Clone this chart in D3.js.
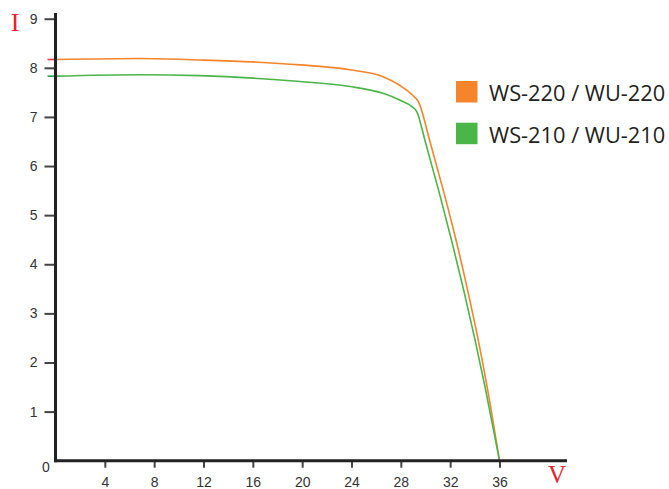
<!DOCTYPE html>
<html>
<head lang="en">
    <meta charset="UTF-8">
    <title>I-V curve</title>
    <script type="text/javascript" src="https://cdn.jsdelivr.net/npm/d3@7"></script>
    <style>
        body { margin: 0; background: #fff; }
    </style>
</head>
<body>
<svg id="mainSvg"></svg>
<script>
    var w = 669, h = 489;

    // series
    var seriesNames = ["WS-220 / WU-220", "WS-210 / WU-210"];
    var seriesColors = ["#f5842a", "#4bb648"];
    var stubColors = ["#ee3a3a", "#1fa34a"];

    var voltage220 = [0, 6.85, 11.7, 16, 19.83, 23.88, 26.56, 27.94, 29.0, 29.42, 30.36, 31.45, 32.47, 33.39, 34.24, 35.0, 36];
    var current220 = [8.17, 8.19, 8.16, 8.12, 8.06, 7.96, 7.82, 7.64, 7.43, 7.31, 6.5, 5.5, 4.5, 3.5, 2.5, 1.5, 0];

    var voltage210 = [0, 6.85, 11.7, 16, 19.83, 23.88, 26.56, 27.94, 28.91, 29.29, 29.98, 31.07, 32.10, 33.07, 33.98, 34.83, 36];
    var current210 = [7.83, 7.86, 7.84, 7.79, 7.72, 7.62, 7.48, 7.34, 7.21, 7.11, 6.5, 5.5, 4.5, 3.5, 2.5, 1.5, 0];

    var xTicks = [4, 8, 12, 16, 20, 24, 28, 32, 36];
    var yTicks = [1, 2, 3, 4, 5, 6, 7, 8, 9];

    var series = [
        {name: seriesNames[0], color: seriesColors[0], stub: stubColors[0], v: voltage220, i: current220},
        {name: seriesNames[1], color: seriesColors[1], stub: stubColors[1], v: voltage210, i: current210}
    ];

    var x = d3.scaleLinear().domain([0, 36]).range([55.5, 499.5]);
    var y = d3.scaleLinear().domain([0, 9]).range([460.7, 18.7]);

    var svg = d3.select("#mainSvg").attr("width", w).attr("height", h);

    // curves
    var line = d3.line()
            .x(function (d) { return x(d[0]); })
            .y(function (d) { return y(d[1]); })
            .curve(d3.curveMonotoneX);

    svg.selectAll("path.curve")
            .data(series)
            .enter()
            .append("path")
            .attr("class", "curve")
            .attr("fill", "none")
            .attr("stroke", function (d) { return d.color; })
            .attr("stroke-width", 1.6)
            .attr("d", function (d) {
                return line(d.v.map(function (v, k) { return [v, d.i[k]]; }));
            });

    // little stubs left of the y axis where the curves start
    svg.selectAll("line.stub")
            .data(series)
            .enter()
            .append("line")
            .attr("class", "stub")
            .attr("x1", x(0) - 8)
            .attr("x2", x(0))
            .attr("y1", function (d) { return y(d.i[0]); })
            .attr("y2", function (d) { return y(d.i[0]); })
            .attr("stroke", function (d) { return d.stub; })
            .attr("stroke-width", 1.6);

    // y axis
    var yAxis = d3.axisLeft(y).tickValues(yTicks).tickSize(11).tickPadding(7);
    var gy = svg.append("g").attr("transform", "translate(" + x(0) + ",0)").call(yAxis);
    gy.select(".domain").remove();
    gy.selectAll(".tick line").attr("stroke", "#444").attr("stroke-width", 2);
    gy.selectAll(".tick text")
            .attr("font-family", "Liberation Sans, Arial, sans-serif")
            .attr("font-size", 14)
            .attr("fill", "#333");

    // x axis
    var xAxis = d3.axisBottom(x).tickValues(xTicks).tickSize(7).tickPadding(9);
    var gx = svg.append("g").attr("transform", "translate(0," + y(0) + ")").call(xAxis);
    gx.select(".domain").remove();
    gx.selectAll(".tick line").attr("stroke", "#444").attr("stroke-width", 2);
    gx.selectAll(".tick text")
            .attr("font-family", "Liberation Sans, Arial, sans-serif")
            .attr("font-size", 14)
            .attr("fill", "#333");

    // axis lines
    svg.append("line")
            .attr("x1", x(0)).attr("x2", x(0))
            .attr("y1", 13).attr("y2", y(0) + 1.5)
            .attr("stroke", "#222").attr("stroke-width", 3);
    svg.append("line")
            .attr("x1", x(0) - 1.5).attr("x2", 567)
            .attr("y1", y(0)).attr("y2", y(0))
            .attr("stroke", "#222").attr("stroke-width", 3);

    // origin label
    svg.append("text")
            .attr("x", 46).attr("y", 472)
            .attr("text-anchor", "middle")
            .attr("font-family", "Liberation Sans, Arial, sans-serif")
            .attr("font-size", 14)
            .attr("fill", "#333")
            .text("0");

    // axis titles
    svg.append("text")
            .attr("x", 15).attr("y", 31)
            .attr("text-anchor", "middle")
            .attr("font-family", "Liberation Serif, serif")
            .attr("font-size", 26)
            .attr("fill", "#e8232b")
            .text("I");
    svg.append("text")
            .attr("x", 557).attr("y", 483)
            .attr("text-anchor", "middle")
            .attr("font-family", "Liberation Serif, serif")
            .attr("font-size", 25)
            .attr("fill", "#e8232b")
            .text("V");

    // legend
    var legend = svg.selectAll("g.legend")
            .data(series)
            .enter()
            .append("g")
            .attr("class", "legend")
            .attr("transform", function (d, k) { return "translate(456," + (81 + k * 41.7) + ")"; });

    legend.append("rect")
            .attr("width", 21.5)
            .attr("height", 21.5)
            .attr("fill", function (d) { return d.color; });

    legend.append("text")
            .attr("x", 33)
            .attr("y", 20)
            .attr("font-family", "Open Sans, sans-serif")
            .attr("font-size", 21.8)
            .attr("fill", "#231f20")
            .text(function (d) { return d.name; });
</script>
</body>
</html>
